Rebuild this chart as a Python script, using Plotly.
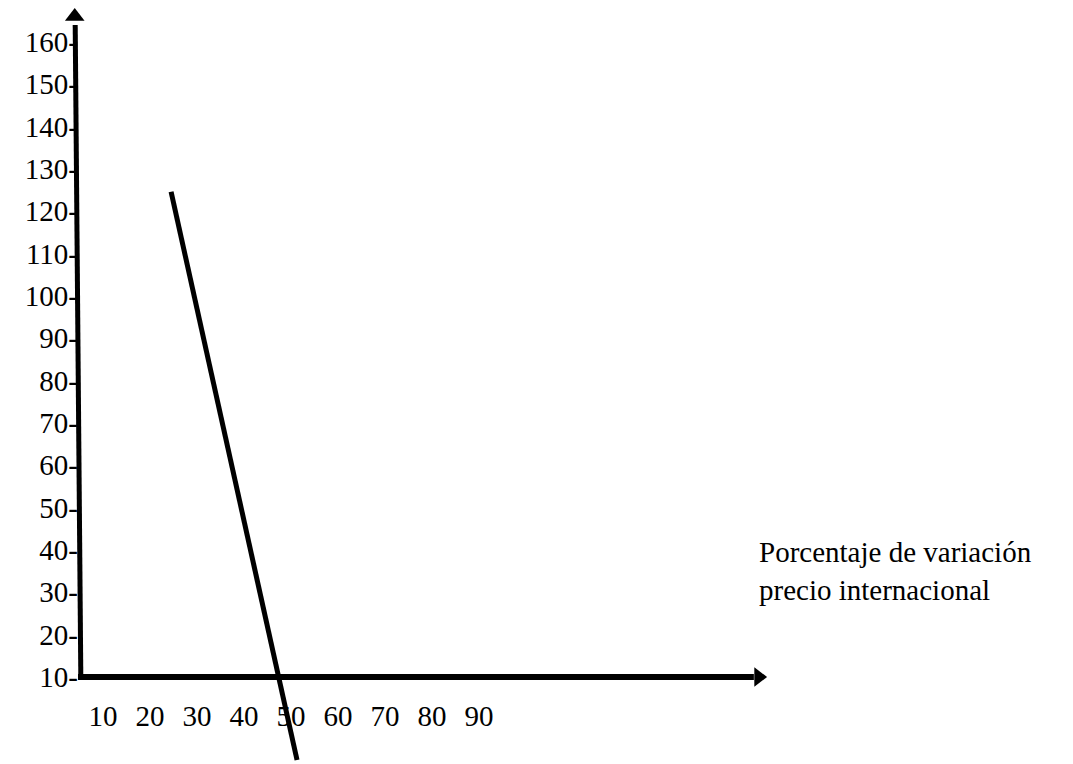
import plotly.graph_objects as go

# ---- data ----
x_ticks = [10, 20, 30, 40, 50, 60, 70, 80, 90]
y_ticks = [10, 20, 30, 40, 50, 60, 70, 80, 90, 100, 110, 120, 130, 140, 150, 160]
line_x = [24.5, 51.3]
line_y = [124.6, -9.6]
label_lines = ["Porcentaje de variación", "precio internacional"]

# ---- axis geometry (data units) ----
X_RANGE = [-11.9, 216.4]
Y_RANGE = [-10.55, 169.9]
ORIGIN_X = 4.7
ORIGIN_Y = 10
X_AXIS_END = 149.5
Y_AXIS_END = 166.0

FONT = "Liberation Serif, Times New Roman, serif"

fig = go.Figure()

# vertical axis (slightly hand-drawn tilt)
fig.add_trace(go.Scatter(
    x=[ORIGIN_X + 0.6, ORIGIN_X - 0.6], y=[ORIGIN_Y - 0.6, Y_AXIS_END - 2],
    mode="lines", line=dict(color="black", width=5), hoverinfo="skip", showlegend=False))
fig.add_trace(go.Scatter(
    x=[ORIGIN_X - 0.7], y=[Y_AXIS_END], mode="markers",
    marker=dict(symbol="triangle-up", size=17, color="black"),
    hoverinfo="skip", showlegend=False))

# horizontal axis
fig.add_trace(go.Scatter(
    x=[ORIGIN_X, X_AXIS_END - 1], y=[ORIGIN_Y, ORIGIN_Y],
    mode="lines", line=dict(color="black", width=6), hoverinfo="skip", showlegend=False))
fig.add_trace(go.Scatter(
    x=[X_AXIS_END], y=[ORIGIN_Y], mode="markers",
    marker=dict(symbol="triangle-right", size=17, color="black"),
    hoverinfo="skip", showlegend=False))

# the sloped line
fig.add_trace(go.Scatter(
    x=line_x, y=line_y, mode="lines",
    line=dict(color="black", width=5), hoverinfo="skip", showlegend=False))

# label text
fig.add_annotation(text="<br>".join(label_lines), xref="paper", yref="paper",
                   x=0.7055, y=0.252, xanchor="left", yanchor="middle", align="left",
                   showarrow=False, font=dict(family=FONT, size=29, color="black"))

fig.update_layout(
    width=1073, height=764,
    margin=dict(l=0, r=0, t=0, b=0),
    paper_bgcolor="white", plot_bgcolor="white",
    showlegend=False,
    xaxis=dict(range=X_RANGE, anchor="free", position=0.1139,
               tickmode="array", tickvals=x_ticks, ticktext=[str(v) for v in x_ticks],
               showgrid=False, zeroline=False, showline=False, ticks="",
               ticklabelstandoff=19, automargin=False,
               tickfont=dict(family=FONT, size=29, color="black")),
    yaxis=dict(range=Y_RANGE, anchor="free", position=0.0727,
               tickmode="array", tickvals=y_ticks, ticktext=[f"{v}-" for v in y_ticks],
               showgrid=False, zeroline=False, showline=False, ticks="",
               ticklabelstandoff=0, automargin=False,
               tickfont=dict(family=FONT, size=29, color="black")),
)

fig.write_html("out.html", post_script="document.body.style.margin='0';",
               config={"displayModeBar": False})
